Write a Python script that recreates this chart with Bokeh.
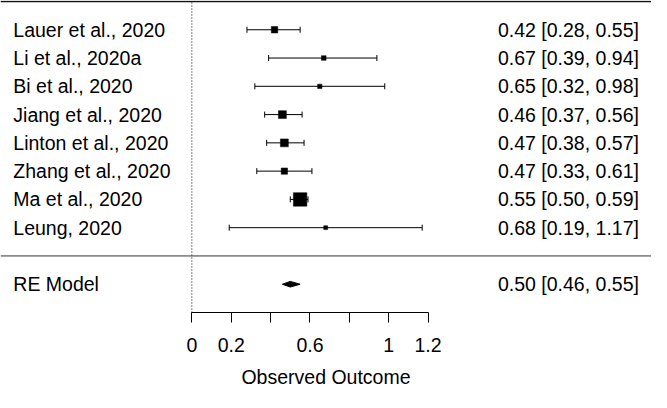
from bokeh.plotting import figure
from bokeh.models import (Range1d, LinearAxis, FixedTicker, Span, ColumnDataSource,
                          Whisker, TeeHead)
from bokeh.core.properties import value
from bokeh.embed import file_html
from bokeh.resources import INLINE

# ---- data ----
studies = ["Lauer et al., 2020", "Li et al., 2020a", "Bi et al., 2020",
           "Jiang et al., 2020", "Linton et al., 2020", "Zhang et al., 2020",
           "Ma et al., 2020", "Leung, 2020"]
estimates = [0.42, 0.67, 0.65, 0.46, 0.47, 0.47, 0.55, 0.68]
ci_lower = [0.28, 0.39, 0.32, 0.37, 0.38, 0.33, 0.50, 0.19]
ci_upper = [0.55, 0.94, 0.98, 0.56, 0.57, 0.61, 0.59, 1.17]
model_label = "RE Model"
model_estimate = 0.50
model_lower = 0.46
model_upper = 0.55
reference_value = 0
tick_values = [0, 0.2, 0.4, 0.6, 0.8, 1.0, 1.2]
tick_labels = ["0", "0.2", "", "0.6", "", "1", "1.2"]
x_label = "Observed Outcome"

# ---- layout helpers ----
k = len(studies)
rows = [k - i for i in range(k)]          # 8 .. 1
model_row = -1
top_row = k + 1
axis_row = -2

FONT = "Liberation Sans"
FS = "19.5px"
W, H = 651, 392
x_start, x_end = -0.972, 2.335
left_text_x = -0.907
right_text_x = 2.271

se = [(u - l) / 3.92 for l, u in zip(ci_lower, ci_upper)]
sizes = [(3 + 0.25 / s) * 0.97 for s in se]
labels_right = [f"{e:.2f} [{l:.2f}, {u:.2f}]" for e, l, u in zip(estimates, ci_lower, ci_upper)]

src = ColumnDataSource(dict(y=rows, est=estimates, lb=ci_lower, ub=ci_upper,
                            size=sizes, name=studies, lab=labels_right))

p = figure(width=W, height=H, output_backend="svg", toolbar_location=None,
           x_range=Range1d(x_start, x_end), y_range=Range1d(axis_row, top_row + 0.035),
           x_axis_location=None, y_axis_location=None,
           min_border_left=0, min_border_right=0, min_border_top=0, min_border_bottom=80)
p.outline_line_color = None
p.xgrid.visible = False
p.ygrid.visible = False
p.background_fill_color = "white"
p.border_fill_color = "white"

# horizontal rules
p.add_layout(Span(location=top_row, dimension="width", line_color="#111111", line_width=1.3))
p.add_layout(Span(location=0, dimension="width", line_color="#333333", line_width=1))

# dotted reference line
p.segment(x0=[reference_value], y0=[axis_row], x1=[reference_value], y1=[top_row],
          line_color="black", line_width=1, line_dash="1 2")

# CIs
wh = Whisker(source=src, base="y", lower="lb", upper="ub", dimension="width",
             line_color="black", line_width=1,
             upper_head=TeeHead(size=6, line_color="black", line_width=1),
             lower_head=TeeHead(size=6, line_color="black", line_width=1))
p.add_layout(wh)

# squares
p.scatter(x="est", y="y", size="size", marker="square", source=src,
          fill_color="black", line_color="black", line_width=0.5)

# diamond
h = 0.1
p.patch(x=[model_lower, model_estimate, model_upper, model_estimate],
        y=[model_row, model_row + h, model_row, model_row - h],
        fill_color="black", line_color="black", line_width=1)

# texts
p.text(x=left_text_x, y="y", text="name", source=src, text_font=value(FONT),
       text_font_size=FS, text_baseline="middle", text_align="left", text_color="black")
p.text(x=right_text_x, y="y", text="lab", source=src, text_font=value(FONT),
       text_font_size=FS, text_baseline="middle", text_align="right", text_color="black")
p.text(x=[left_text_x], y=[model_row], text=[model_label], text_font=value(FONT),
       text_font_size=FS, text_baseline="middle", text_align="left", text_color="black")
p.text(x=[right_text_x], y=[model_row],
       text=[f"{model_estimate:.2f} [{model_lower:.2f}, {model_upper:.2f}]"],
       text_font=value(FONT), text_font_size=FS, text_baseline="middle",
       text_align="right", text_color="black")

# axis
ax = LinearAxis(ticker=FixedTicker(ticks=tick_values),
                bounds=(tick_values[0], tick_values[-1]),
                major_label_overrides={t: l for t, l in zip(tick_values, tick_labels)},
                axis_label=x_label)
ax.axis_line_color = "black"
ax.axis_line_width = 1
ax.major_tick_line_color = "black"
ax.major_tick_out = 10
ax.major_tick_in = 0
ax.minor_tick_out = 0
ax.minor_tick_in = 0
ax.major_label_text_font = FONT
ax.major_label_text_font_size = FS
ax.major_label_text_color = "black"
ax.major_label_standoff = 15
ax.axis_label_text_font = FONT
ax.axis_label_text_font_size = FS
ax.axis_label_text_font_style = "normal"
ax.axis_label_text_color = "black"
ax.axis_label_standoff = 11
p.add_layout(ax, "below")

open("out.html", "w").write(file_html(p, INLINE))
